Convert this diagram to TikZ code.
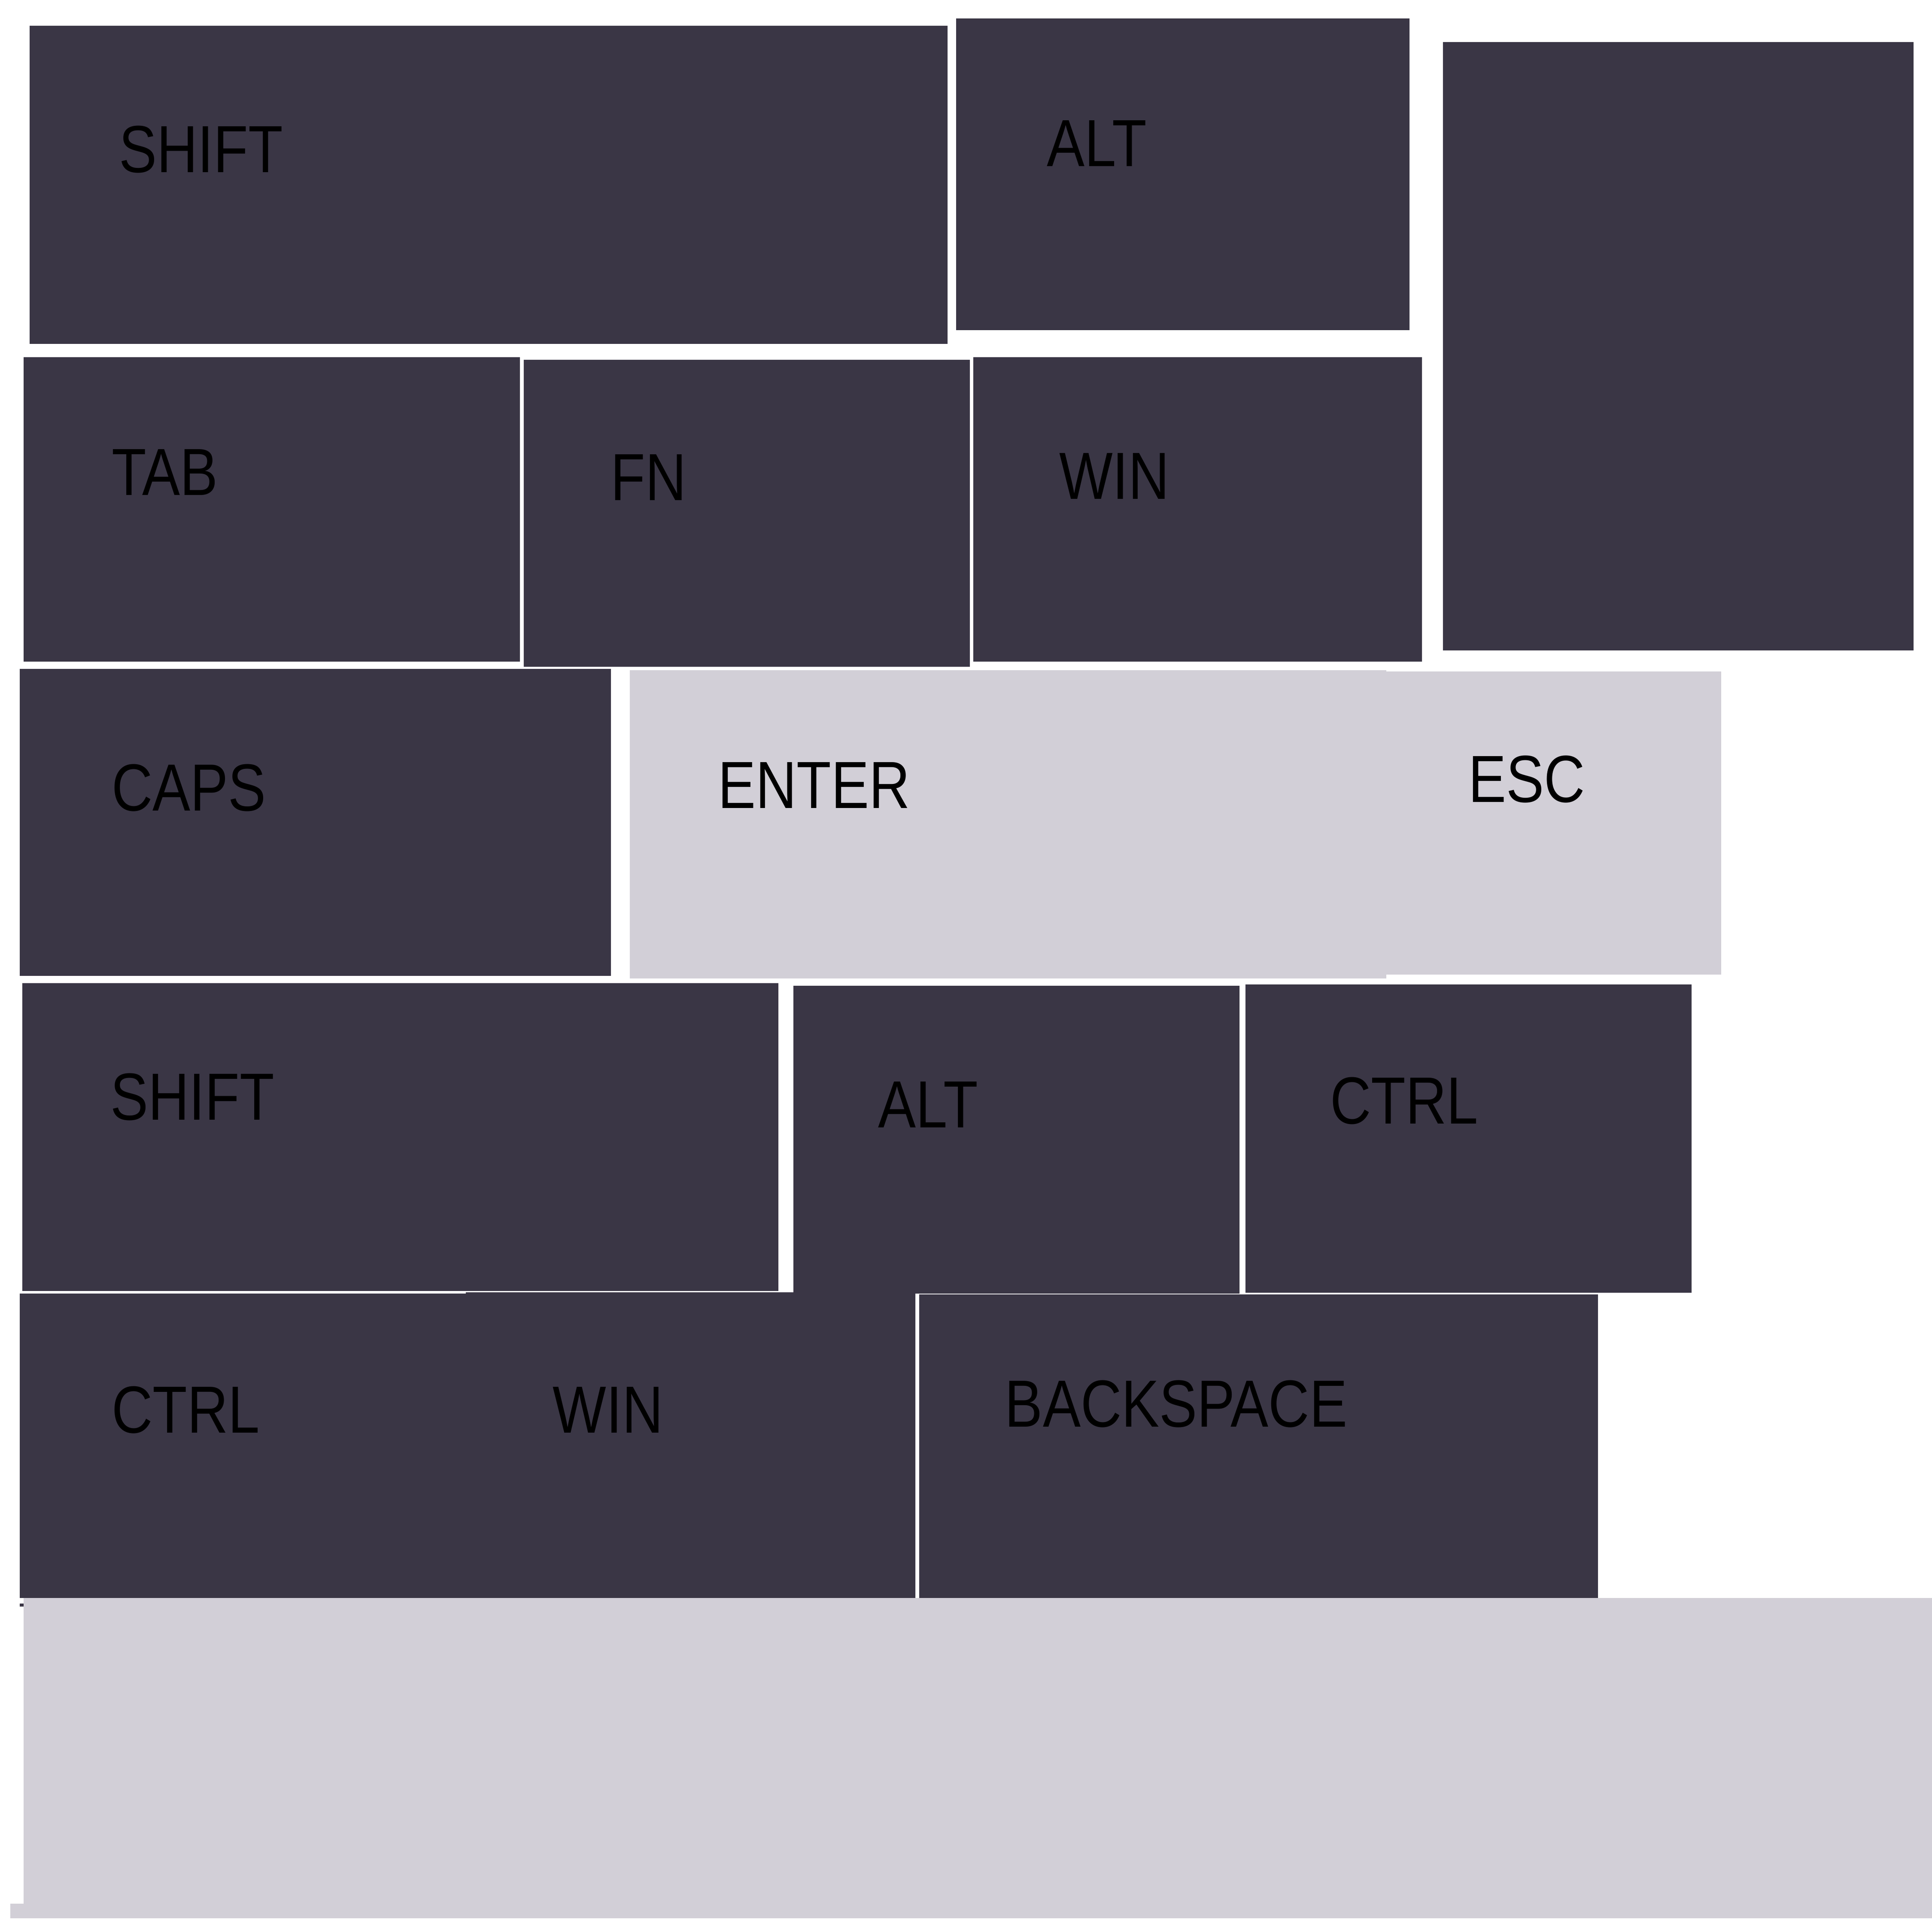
\documentclass[tikz,border=0pt]{standalone}
\usepackage{fontspec}
\setmainfont[FakeStretch=0.85]{Liberation Sans}
\definecolor{keydark}{HTML}{3A3645}
\definecolor{keylight}{HTML}{D2CFD7}
\tikzset{
  keybox/.style={fill=keydark},
  litbox/.style={fill=keylight},
  keylabel/.style={anchor=base west, inner sep=0pt, text=black,
    font=\fontsize{15.4}{18}\selectfont}
}
\begin{document}
\begin{tikzpicture}[x=0.1mm, y=-0.1mm]
  \useasboundingbox (0,0) rectangle (1568,1568);
  % dark keys
  \foreach \xa/\ya/\xb/\yb in {24/21/769/279, 776/15/1144/268, 1171/34/1553/528,
      19/290/422/537, 425/292/787/541, 790/290/1154/537,
      16/543/496/792,
      18/798/631.6/1047.6, 644/800/1006/1050, 1011/799/1373/1049,
      16/1049.8/378.5/1297, 378/1048.9/743/1297, 746/1050.5/1297/1297} {
    \fill[keybox] (\xa,\ya) rectangle (\xb,\yb);
  }
  \fill[keydark] (16,1301.5) rectangle (19.5,1304);
  % light keys
  \foreach \xa/\ya/\xb/\yb in {511/544/1125/794, 1125/545/1397/791,
      19/1297/1568/1557, 8.5/1545/19/1557} {
    \fill[litbox] (\xa,\ya) rectangle (\xb,\yb);
  }
  % key labels
  \foreach \name/\xa/\ya/\txt in {shifttop/96/140/SHIFT, alttop/849/135/ALT,
      tab/90/402/TAB, fn/495/406/FN, wintop/859/405/WIN,
      caps/90/658/CAPS, enter/582/656/ENTER, esc/1191/651/ESC,
      shiftbot/89/909/SHIFT, altbot/712/915/ALT, ctrlmid/1079/912/CTRL,
      ctrlbot/90/1163/CTRL, winbot/448/1163/WIN, bksp/815/1158/BACKSPACE} {
    \node[keylabel] (\name) at (\xa,\ya) {\txt};
  }
\end{tikzpicture}
\end{document}
